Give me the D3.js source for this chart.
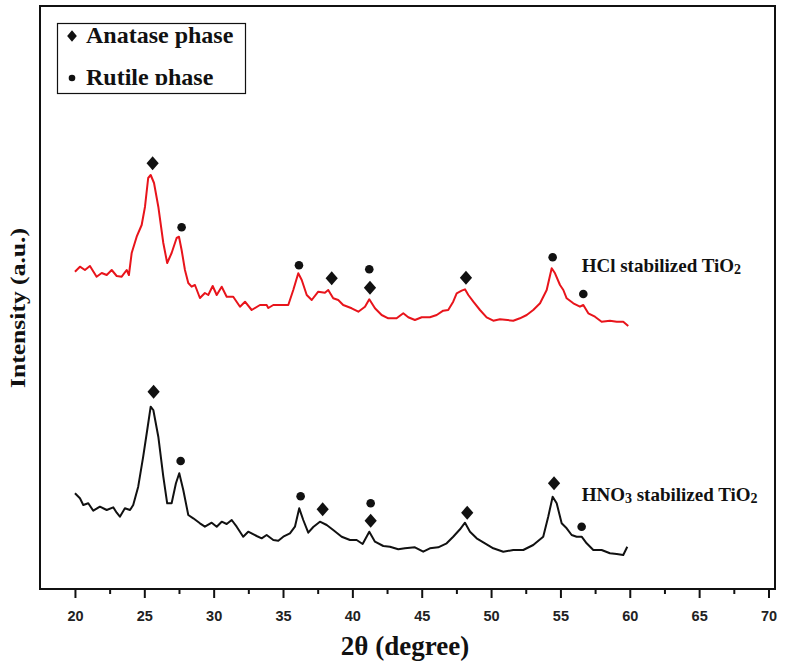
<!DOCTYPE html>
<html>
<head>
<meta charset="utf-8">
<script src="https://cdn.jsdelivr.net/npm/d3@7"></script>
<style>
  html, body { margin: 0; padding: 0; background: #fff; }
  svg { display: block; }
</style>
</head>
<body>
<svg id="chart" width="786" height="671"></svg>
<script>
// ---- Data (2θ in degrees, intensity in arbitrary units) ----
const hclTheta = [20.00,20.36,20.72,21.08,21.56,21.93,22.29,22.65,23.01,23.37,23.73,23.89,24.09,24.45,24.81,25.05,25.28,25.46,25.70,26.01,26.37,26.65,26.97,27.33,27.50,27.69,27.93,28.17,28.41,28.65,29.01,29.37,29.61,29.93,30.22,30.58,30.94,31.41,31.90,32.26,32.74,33.34,33.82,33.94,34.30,35.38,35.74,36.10,36.35,36.71,37.07,37.54,38.02,38.26,38.62,38.98,39.34,39.95,40.43,40.91,41.22,41.63,42.11,42.59,43.19,43.67,44.03,44.51,45.00,45.59,46.08,46.55,46.91,47.27,47.52,47.88,48.12,48.36,48.72,49.20,49.68,50.16,50.64,51.60,52.08,52.57,53.04,53.53,54.01,54.37,54.61,54.97,55.21,55.45,55.93,56.41,56.65,57.01,57.49,57.97,58.57,59.06,59.53,59.89];
const hclIntensity = [317.3,322.3,319,323,312.3,316,314,319,313,312.3,319,314,336,352.3,364,382.3,411,414,406,382.3,346,326,336,351,352.3,339,319,306,302.3,304,291,296,294,303,294,302.3,292.3,292.3,282.3,287.3,279,284,284,281,284,284,299,315.7,309,294,289,297.3,296.3,299,290.7,289,284,280.7,277.3,282.3,289.7,280.7,274,270.7,270.7,275.7,271.7,269,271.7,271.7,274,278.3,279,287.3,295.7,298.3,299.7,294,287.3,279,271.7,268.3,269.7,268.3,270.7,274,279,285.7,299,320.7,315.7,304,299,290.7,285.7,282.3,284,275.7,272.3,267.3,268.3,267.3,267.3,263];

const hno3Theta = [20.00,20.36,20.60,20.96,21.32,21.80,22.29,22.76,23.01,23.24,23.60,23.97,24.20,24.56,24.92,25.21,25.46,25.65,26.01,26.37,26.65,26.97,27.28,27.52,27.81,28.17,28.53,29.01,29.37,29.86,30.22,30.58,30.94,31.30,31.66,32.13,32.49,33.10,33.46,33.82,34.30,34.66,35.02,35.50,35.86,36.17,36.46,36.82,37.18,37.66,38.15,38.62,39.23,39.83,40.31,40.74,41.22,41.63,42.23,42.71,43.31,43.79,44.51,45.11,45.59,46.19,46.80,47.27,47.76,48.12,48.48,48.96,49.56,50.16,50.88,51.60,52.32,53.04,53.76,54.12,54.44,54.73,55.09,55.45,55.81,56.17,56.53,56.89,57.37,57.97,58.57,59.06,59.53,59.82];
const hno3Intensity = [95.7,90.7,84,85.7,78.3,82.3,79,81.7,76.3,72.3,80.7,79,84,102.3,132.3,159,182.3,179,152.3,112.3,85.7,85.7,105.7,115.7,99,74,70.7,65.7,62.3,66.3,62.3,67.3,65,69,62.3,52.3,57.3,53,50.7,54,49,48.3,52.3,55.7,62.3,80.7,69,56.3,62,67.3,64,59,52.3,49,49,45,57.3,47.3,43,42.3,39.7,40.7,41.7,37.3,40.7,41.7,45.7,52.3,59.7,66.3,57.3,50.7,45.7,40.7,37.3,39,39,44,52.3,72.3,92.3,85.7,65.7,60.7,54,52.3,52.3,45.7,39,39,35.7,35,34,42.3];

// Phase markers: position (2θ, intensity) and phase
const hclMarkTheta = [25.60, 27.69, 36.15, 38.51, 41.22, 41.27, 48.19, 54.44, 56.65];
const hclMarkIntensity = [425.7, 361.7, 323.7, 310.7, 319.7, 301.3, 311.3, 331.7, 295];
const hclMarkPhase = ["A", "R", "R", "A", "R", "A", "A", "R", "R"];

const hno3MarkTheta = [25.67, 27.62, 36.27, 37.86, 41.32, 41.32, 48.28, 54.54, 56.53];
const hno3MarkIntensity = [197.3, 128, 92.7, 79.7, 85.7, 68.3, 76.3, 105.7, 62.3];
const hno3MarkPhase = ["A", "R", "R", "A", "R", "A", "A", "A", "R"];

const majorTicks = [20, 25, 30, 35, 40, 45, 50, 55, 60, 65, 70];
const minorTicks = [22.5, 27.5, 32.5, 37.5, 42.5, 47.5, 52.5, 57.5, 62.5, 67.5];
const legendLabels = ["Anatase phase", "Rutile phase"];

// ---- Layout ----
const svg = d3.select("#chart");
const L = 40, R = 775, T = 6, B = 589;
const x = d3.scaleLinear().domain([17.48, 70.47]).range([L, R]);
const y = d3.scaleLinear().domain([0, 583]).range([B, T]);

const serif = "'Liberation Serif', 'Times New Roman', serif";
const sans = "'Liberation Sans', Arial, sans-serif";

// Curves
const line = d3.line().x(d => x(d[0])).y(d => y(d[1]));
const hclData = hclTheta.map((t, i) => [t, hclIntensity[i]]);
const hno3Data = hno3Theta.map((t, i) => [t, hno3Intensity[i]]);

svg.append("path").datum(hclData).attr("d", line)
  .attr("fill", "none").attr("stroke", "#e8141b").attr("stroke-width", 2).attr("stroke-linejoin", "round");
svg.append("path").datum(hno3Data).attr("d", line)
  .attr("fill", "none").attr("stroke", "#111").attr("stroke-width", 2).attr("stroke-linejoin", "round");

// Markers
const diamond = d3.symbol().type(d3.symbolDiamond2).size(95);
function drawMarks(thetas, vals, phases) {
  thetas.forEach((t, i) => {
    if (phases[i] === "A") {
      svg.append("path").attr("d", diamond())
        .attr("transform", `translate(${x(t)},${y(vals[i])}) scale(1,1.15)`)
        .attr("fill", "#111");
    } else {
      svg.append("circle").attr("cx", x(t)).attr("cy", y(vals[i])).attr("r", 4.3).attr("fill", "#111");
    }
  });
}
drawMarks(hclMarkTheta, hclMarkIntensity, hclMarkPhase);
drawMarks(hno3MarkTheta, hno3MarkIntensity, hno3MarkPhase);

// Series labels
const lab1 = svg.append("text").attr("x", x(56.53)).attr("y", y(317))
  .attr("font-family", serif).attr("font-weight", "bold").attr("font-size", 19).attr("fill", "#111");
lab1.append("tspan").text("HCl stabilized TiO");
lab1.append("tspan").text("2").attr("font-size", 14).attr("dy", 2);

const lab2 = svg.append("text").attr("x", x(56.53)).attr("y", y(88))
  .attr("font-family", serif).attr("font-weight", "bold").attr("font-size", 19).attr("fill", "#111");
lab2.append("tspan").text("HNO");
lab2.append("tspan").text("3").attr("font-size", 14).attr("dy", 2);
lab2.append("tspan").text(" stabilized TiO").attr("dy", -2);
lab2.append("tspan").text("2").attr("font-size", 14).attr("dy", 2);

// Frame
svg.append("rect").attr("x", L).attr("y", T).attr("width", R - L).attr("height", B - T)
  .attr("fill", "none").attr("stroke", "#111").attr("stroke-width", 2);

// X axis
const ax = svg.append("g").attr("transform", `translate(0,${B})`)
  .call(d3.axisBottom(x).tickValues(majorTicks).tickSize(9).tickPadding(13).tickFormat(d3.format("d")));
ax.select(".domain").remove();
ax.selectAll("line").attr("stroke", "#111").attr("stroke-width", 2);
ax.selectAll("text").attr("font-family", sans).attr("font-weight", "bold").attr("font-size", 14.5).attr("fill", "#222");

const axm = svg.append("g").attr("transform", `translate(0,${B})`)
  .call(d3.axisBottom(x).tickValues(minorTicks).tickSize(5).tickFormat(""));
axm.select(".domain").remove();
axm.selectAll("line").attr("stroke", "#111").attr("stroke-width", 2);

// Axis titles
svg.append("text").attr("x", 405).attr("y", 655).attr("text-anchor", "middle")
  .attr("font-family", serif).attr("font-weight", "bold").attr("font-size", 27).attr("fill", "#111")
  .text("2θ (degree)");
svg.append("text").attr("transform", "translate(25,308) rotate(-90)").attr("text-anchor", "middle")
  .attr("font-family", serif).attr("font-weight", "bold").attr("font-size", 20)
  .attr("textLength", 160).attr("lengthAdjust", "spacingAndGlyphs").attr("fill", "#111")
  .text("Intensity (a.u.)");

// Legend
svg.append("defs").append("clipPath").attr("id", "legclip")
  .append("rect").attr("x", 57).attr("y", 23).attr("width", 189).attr("height", 62);
svg.append("rect").attr("x", 57.5).attr("y", 23.5).attr("width", 188).attr("height", 70)
  .attr("fill", "#fff").attr("stroke", "#111").attr("stroke-width", 1.2);
const lg = svg.append("g").attr("clip-path", "url(#legclip)");
lg.append("path").attr("d", d3.symbol().type(d3.symbolDiamond2).size(60)())
  .attr("transform", "translate(72,36) scale(1,1.2)").attr("fill", "#111");
lg.append("circle").attr("cx", 72).attr("cy", 78).attr("r", 3.3).attr("fill", "#111");
legendLabels.forEach((t, i) => {
  lg.append("text").attr("x", 86).attr("y", 43 + i * 42)
    .attr("font-family", serif).attr("font-weight", "bold").attr("font-size", 24).attr("fill", "#111")
    .text(t);
});
</script>
</body>
</html>
